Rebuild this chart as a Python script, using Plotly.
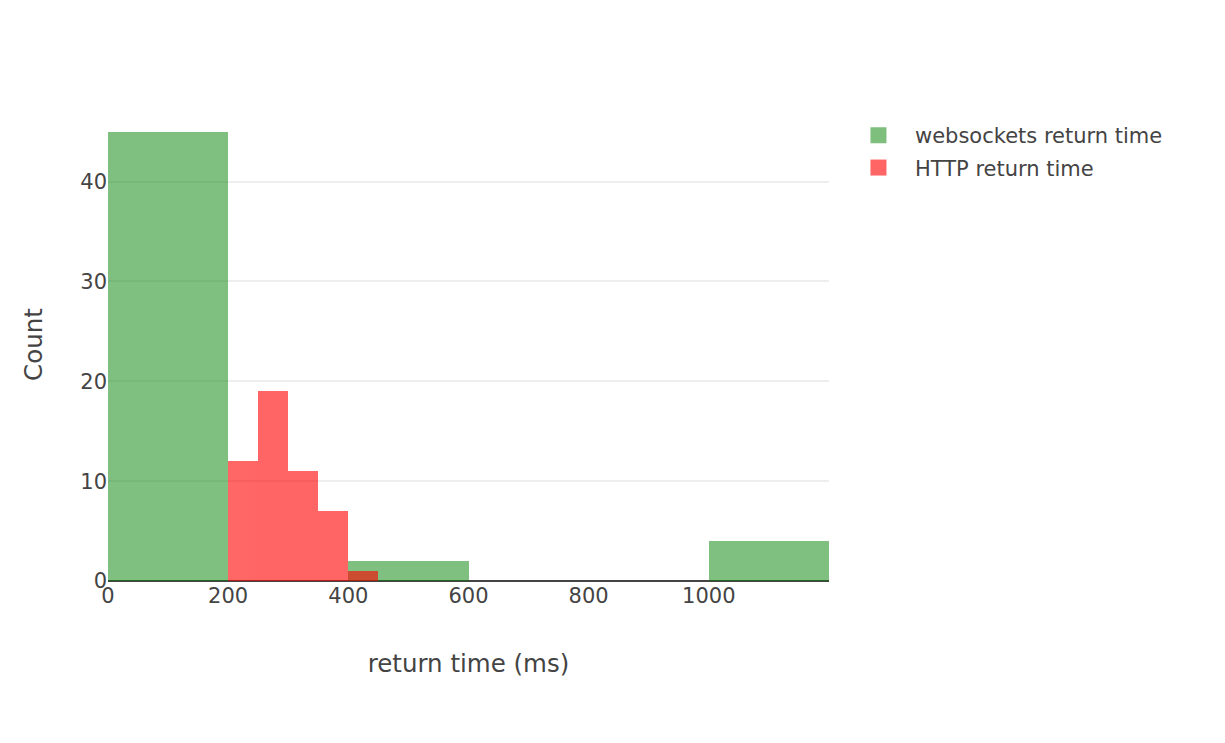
import plotly.graph_objects as go

# websockets histogram (bin width 200)
ws_bin_left = [0, 200, 400, 600, 800, 1000]
ws_counts = [45, 0, 2, 0, 0, 4]
ws_bin_width = 200

# HTTP histogram (bin width 50)
http_bin_left = [200, 250, 300, 350, 400]
http_counts = [12, 19, 11, 7, 1]
http_bin_width = 50

x_ticks = [0, 200, 400, 600, 800, 1000]
y_ticks = [0, 10, 20, 30, 40]

FONT = "DejaVu Sans, Verdana, sans-serif"

series = [
    ("websockets return time", ws_bin_left, ws_counts, ws_bin_width, "green", 0.5),
    ("HTTP return time", http_bin_left, http_counts, http_bin_width, "red", 0.6),
]

fig = go.Figure()
for name, left, counts, bw, color, op in series:
    fig.add_trace(go.Bar(
        x=left, y=counts, width=[bw] * len(left), offset=0,
        name=name, legendgroup=name, showlegend=False,
        marker=dict(color=color, line=dict(width=0)), opacity=op,
    ))
    # legend swatch (larger square than the default bar swatch)
    fig.add_trace(go.Scatter(
        x=[None], y=[None], mode="markers", name=name, legendgroup=name,
        marker=dict(symbol="square", size=16, color=color), opacity=op,
        hoverinfo="skip",
    ))

fig.update_layout(
    width=1225, height=743,
    barmode="overlay", bargap=0,
    paper_bgcolor="white", plot_bgcolor="white",
    font=dict(family=FONT, size=21, color="#444"),
    margin=dict(l=108, r=396, t=108, b=162, pad=0),
    xaxis=dict(
        range=[0, 1200], tickvals=x_ticks, showgrid=False, zeroline=False,
        showline=False, ticks="", tickfont=dict(size=21),
        title=dict(text="return time (ms)", font=dict(size=24.5), standoff=47),
    ),
    yaxis=dict(
        range=[0, 47.37], tickvals=y_ticks, showgrid=True, gridcolor="#eee", gridwidth=2,
        zeroline=True, zerolinecolor="#444", zerolinewidth=2,
        ticks="", tickfont=dict(size=21),
        title=dict(text="Count", font=dict(size=24.5), standoff=30),
    ),
    legend=dict(x=1.018, y=0.985, xanchor="left", yanchor="top", font=dict(size=21),
                itemwidth=63, tracegroupgap=2, itemsizing="trace"),
    showlegend=True,
)

fig.write_html("out.html")
